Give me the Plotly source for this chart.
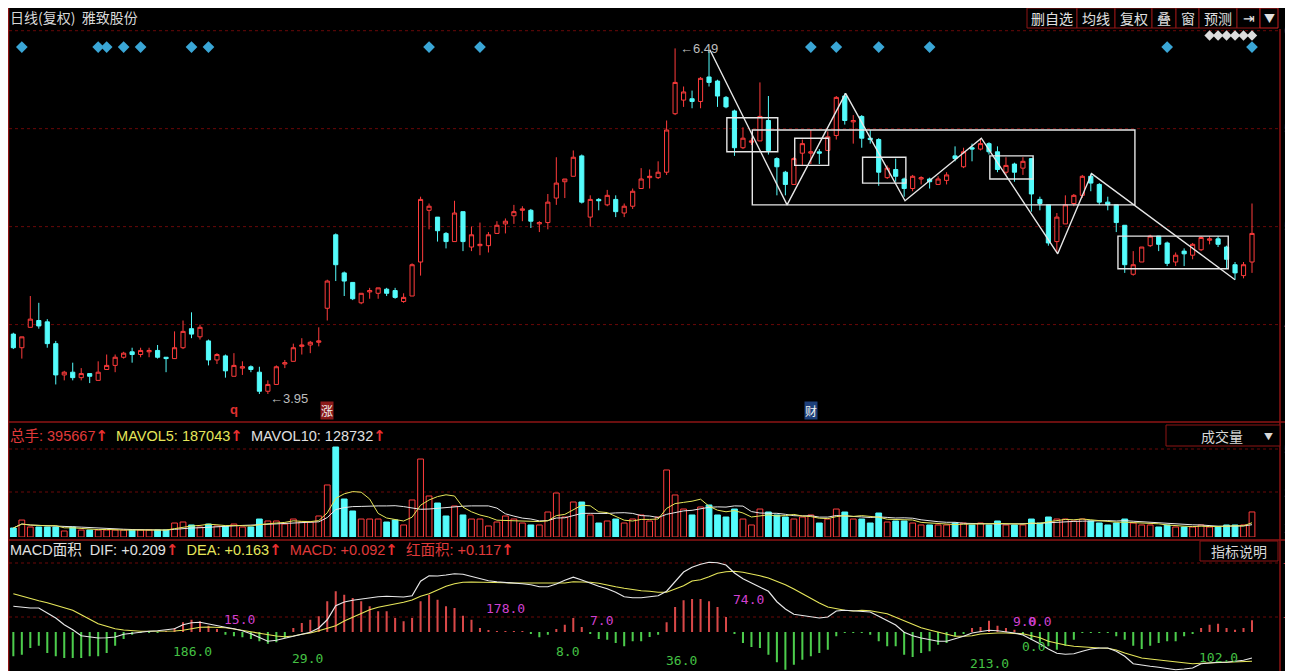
import plotly.graph_objects as go
import pandas as pd

# page is offset by the 8px body margin; figure fills the rest of the 1293x671 window
OFF = 8
W, H = 1293 - OFF, 671 - OFF

# ---------------- data ----------------
opens = [4.39,4.29,4.44,4.49,4.48,4.32,4.09,4.11,4.07,4.10,4.05,4.13,4.16,4.22,4.26,4.24,4.26,4.27,4.22,4.21,
         4.29,4.43,4.37,4.34,4.20,4.23,4.08,4.14,4.15,4.11,3.97,4.02,4.17,4.19,4.30,4.31,4.33,4.58,5.12,4.84,
         4.77,4.62,4.70,4.69,4.72,4.71,4.63,4.67,4.92,5.30,5.25,5.13,5.07,5.29,5.03,5.04,5.04,5.13,5.20,5.26,
         5.30,5.30,5.20,5.21,5.39,5.51,5.55,5.70,5.25,5.38,5.34,5.38,5.28,5.33,5.46,5.54,5.54,5.58,6.01,6.11,
         6.12,6.10,6.28,6.25,6.13,6.03,5.76,5.80,5.81,5.96,5.68,5.58,5.49,5.72,5.72,5.73,5.74,5.85,6.14,5.95,
         5.99,5.83,5.82,5.54,5.60,5.53,5.46,5.53,5.53,5.49,5.52,5.70,5.62,5.76,5.75,5.79,5.73,5.58,5.64,5.61,
         5.68,5.38,5.34,5.07,5.20,5.35,5.41,5.55,5.49,5.36,5.34,5.19,4.83,4.92,5.04,5.11,5.06,4.92,5.00,4.97,
         5.01,5.08,5.09,5.03,4.90,4.82,4.92]
highs = [4.40,4.37,4.67,4.62,4.50,4.34,4.12,4.18,4.14,4.10,4.19,4.24,4.24,4.26,4.29,4.29,4.29,4.31,4.22,4.41,
         4.49,4.55,4.46,4.35,4.25,4.24,4.25,4.19,4.16,4.15,4.05,4.16,4.20,4.32,4.36,4.34,4.44,4.79,5.13,4.85,
         4.77,4.69,4.73,4.73,4.73,4.73,4.69,4.91,5.40,5.35,5.25,5.14,5.37,5.29,5.18,5.21,5.14,5.22,5.24,5.34,
         5.33,5.31,5.22,5.42,5.69,5.53,5.74,5.71,5.41,5.39,5.45,5.41,5.35,5.46,5.61,5.60,5.66,5.96,6.49,6.21,
         6.18,6.28,6.47,6.26,6.14,6.04,5.91,5.83,6.24,6.14,5.69,5.59,5.69,5.82,5.89,5.75,5.88,6.14,6.16,6.00,
         6.00,5.89,5.83,5.63,5.68,5.54,5.56,5.55,5.54,5.55,5.58,5.77,5.76,5.79,5.83,5.80,5.77,5.69,5.65,5.69,
         5.68,5.40,5.34,5.28,5.41,5.42,5.56,5.57,5.50,5.40,5.34,5.19,5.00,5.03,5.12,5.11,5.07,4.99,5.02,5.06,
         5.11,5.11,5.11,5.04,4.92,4.92,5.35]
lows = [4.28,4.21,4.44,4.43,4.29,4.02,4.05,4.05,4.05,4.03,4.05,4.13,4.11,4.21,4.18,4.22,4.22,4.21,4.11,4.21,
        4.28,4.36,4.35,4.16,4.17,4.07,4.08,4.09,4.11,3.95,3.95,4.02,4.14,4.19,4.24,4.25,4.30,4.49,4.78,4.67,
        4.64,4.61,4.65,4.65,4.67,4.65,4.62,4.67,4.82,5.16,5.07,5.02,5.07,5.00,5.00,4.97,4.99,5.13,5.13,5.20,
        5.22,5.17,5.14,5.16,5.34,5.39,5.55,5.35,5.18,5.30,5.33,5.25,5.25,5.31,5.46,5.46,5.53,5.56,6.00,6.06,
        6.05,6.05,6.21,6.06,6.05,5.70,5.75,5.78,5.81,5.71,5.41,5.41,5.49,5.63,5.64,5.64,5.74,5.82,5.93,5.79,
        5.76,5.79,5.48,5.53,5.51,5.40,5.44,5.49,5.46,5.49,5.49,5.66,5.61,5.66,5.74,5.71,5.58,5.56,5.51,5.56,
        5.29,5.30,5.04,4.99,5.20,5.33,5.39,5.44,5.34,5.30,5.14,4.84,4.82,4.92,5.03,5.00,4.89,4.89,4.89,4.94,
        5.00,5.05,5.03,4.87,4.79,4.80,4.84]
closes = [4.29,4.37,4.50,4.45,4.32,4.09,4.11,4.07,4.10,4.08,4.11,4.16,4.22,4.25,4.24,4.27,4.27,4.22,4.21,4.29,
          4.41,4.39,4.44,4.20,4.24,4.12,4.16,4.15,4.13,3.97,4.02,4.15,4.18,4.29,4.31,4.33,4.34,4.78,4.90,4.78,
          4.65,4.69,4.71,4.73,4.69,4.66,4.66,4.90,5.38,5.33,5.15,5.07,5.28,5.07,5.12,5.05,5.12,5.19,5.22,5.29,
          5.31,5.22,5.21,5.36,5.50,5.53,5.69,5.36,5.38,5.37,5.41,5.29,5.33,5.44,5.53,5.55,5.58,5.89,6.24,6.17,
          6.10,6.27,6.24,6.14,6.06,5.76,5.83,5.81,5.99,5.74,5.62,5.49,5.68,5.79,5.73,5.72,5.84,6.13,5.96,5.96,
          5.83,5.82,5.58,5.61,5.55,5.46,5.55,5.54,5.51,5.53,5.56,5.68,5.73,5.75,5.79,5.73,5.60,5.63,5.58,5.66,
          5.42,5.35,5.06,5.25,5.34,5.41,5.55,5.50,5.36,5.34,5.21,4.90,4.90,5.03,5.11,5.05,4.91,4.97,4.98,5.05,
          5.10,5.09,5.05,4.94,4.84,4.90,5.13]
volumes = [142000,268000,158000,158000,158000,158000,95000,158000,110000,110000,110000,110000,110000,110000,110000,
           110000,110000,110000,110000,221000,237000,190000,158000,205000,174000,174000,205000,158000,158000,284000,
           253000,253000,205000,284000,237000,237000,332000,822000,1422000,600000,411000,284000,284000,284000,237000,
           269000,190000,585000,1232000,648000,537000,332000,490000,348000,284000,284000,174000,237000,332000,284000,
           221000,190000,190000,395000,695000,316000,553000,553000,348000,221000,253000,284000,221000,284000,348000,
           253000,316000,1059000,664000,442000,348000,474000,506000,348000,316000,442000,284000,190000,442000,395000,
           348000,316000,284000,316000,348000,221000,284000,442000,395000,284000,284000,221000,379000,237000,253000,
           253000,221000,190000,190000,190000,190000,221000,221000,190000,221000,190000,253000,190000,190000,190000,
           284000,221000,316000,284000,284000,253000,284000,253000,221000,190000,221000,284000,221000,190000,190000,
           158000,190000,158000,158000,158000,190000,158000,158000,190000,190000,190000,395667]
dif = [0.103,0.099,0.096,0.096,0.076,0.056,0.029,0.009,-0.015,-0.021,-0.024,-0.023,-0.020,-0.009,-0.004,0.001,0.003,0.005,0.008,0.013,
       0.029,0.037,0.039,0.032,0.023,0.019,0.013,0.005,-0.007,-0.021,-0.037,-0.033,-0.025,-0.017,-0.009,-0.001,0.016,0.049,0.105,0.120,
       0.127,0.132,0.137,0.141,0.143,0.141,0.140,0.145,0.203,0.225,0.224,0.228,0.233,0.231,0.223,0.213,0.205,0.201,0.199,0.197,
       0.193,0.189,0.181,0.181,0.192,0.207,0.219,0.208,0.195,0.183,0.173,0.159,0.141,0.137,0.137,0.140,0.145,0.163,0.203,0.240,
       0.259,0.271,0.279,0.277,0.268,0.236,0.213,0.196,0.180,0.163,0.121,0.092,0.071,0.067,0.061,0.056,0.060,0.084,0.087,0.085,
       0.085,0.080,0.063,0.047,0.028,-0.001,-0.015,-0.024,-0.031,-0.037,-0.037,-0.028,-0.017,-0.004,0.001,0.007,0.005,0.001,-0.004,-0.012,
       -0.028,-0.047,-0.068,-0.085,-0.089,-0.087,-0.077,-0.068,-0.064,-0.064,-0.077,-0.097,-0.127,-0.133,-0.137,-0.141,-0.145,-0.151,-0.148,-0.144,
       -0.127,-0.123,-0.121,-0.121,-0.117,-0.113,-0.104]
dea = [0.153,0.143,0.132,0.125,0.117,0.108,0.099,0.087,0.069,0.052,0.033,0.023,0.013,0.008,0.005,0.003,0.003,0.003,0.003,0.004,
       0.007,0.012,0.019,0.020,0.020,0.017,0.012,0.008,0.001,-0.005,-0.012,-0.016,-0.019,-0.016,-0.009,-0.004,0.005,0.016,0.025,0.044,
       0.060,0.076,0.089,0.099,0.105,0.112,0.119,0.128,0.143,0.153,0.169,0.183,0.193,0.199,0.200,0.200,0.200,0.199,0.197,0.196,
       0.196,0.196,0.195,0.193,0.195,0.196,0.201,0.201,0.199,0.195,0.187,0.181,0.175,0.169,0.165,0.163,0.159,0.159,0.172,0.185,
       0.204,0.209,0.221,0.235,0.241,0.243,0.239,0.233,0.225,0.216,0.204,0.189,0.172,0.153,0.136,0.116,0.100,0.092,0.087,0.084,
       0.087,0.085,0.079,0.073,0.059,0.045,0.033,0.017,0.008,0.000,-0.011,-0.017,-0.017,-0.015,-0.008,-0.005,-0.004,-0.004,-0.005,-0.007,
       -0.015,-0.023,-0.037,-0.045,-0.052,-0.057,-0.060,-0.064,-0.064,-0.065,-0.072,-0.084,-0.095,-0.104,-0.108,-0.112,-0.116,-0.120,-0.124,-0.127,
       -0.125,-0.124,-0.121,-0.121,-0.121,-0.120,-0.117]
macd_hist = [-0.097,-0.091,-0.064,-0.055,-0.084,-0.097,-0.104,-0.104,-0.104,-0.097,-0.097,-0.084,-0.055,-0.028,-0.011,-0.004,-0.001,-0.001,0.001,0.016,
             0.039,0.049,0.043,0.025,0.012,-0.011,-0.017,-0.021,-0.028,-0.037,-0.047,-0.041,-0.024,0.016,0.036,0.049,0.063,0.123,0.163,0.149,
             0.136,0.123,0.103,0.083,0.083,0.056,0.043,0.056,0.123,0.149,0.129,0.103,0.096,0.065,0.049,0.016,0.007,0.003,0.003,0.003,
             0.001,-0.007,-0.021,-0.011,0.012,0.029,0.056,0.020,-0.007,-0.028,-0.031,-0.044,-0.057,-0.037,-0.037,-0.020,-0.011,0.039,0.100,0.127,
             0.132,0.132,0.123,0.100,0.060,-0.007,-0.044,-0.060,-0.064,-0.091,-0.121,-0.151,-0.131,-0.111,-0.097,-0.084,-0.071,-0.017,-0.004,-0.001,
             -0.004,-0.011,-0.037,-0.057,-0.057,-0.091,-0.100,-0.084,-0.077,-0.051,-0.044,-0.017,-0.007,0.016,0.020,0.045,0.025,0.016,0.009,-0.011,
             -0.031,-0.041,-0.057,-0.071,-0.055,-0.031,-0.004,-0.001,-0.001,-0.001,-0.017,-0.031,-0.055,-0.068,-0.055,-0.044,-0.037,-0.037,-0.017,-0.007,
             0.016,0.029,0.033,0.016,0.009,0.016,0.047]

price_grid = [4.46, 5.18, 5.90, 6.62]
price_tick_text = ["4", "5", "5", "6"]
signal_idx = [1, 10, 11, 13, 15, 21, 23, 49, 55, 94, 97, 102, 108, 136, 146]
forecast_idx = [141, 142, 143, 144, 145, 146]
zig_idx = [82.1, 91.2, 98.1, 105.1, 114.1, 123.1, 127.1, 144.0]
zig_price = [6.48, 5.34, 6.16, 5.37, 5.83, 4.98, 5.57, 4.79]
boxes = [(84.1, 90.1, 5.73, 5.98), (87.1, 132.2, 5.34, 5.89), (92.1, 96.1, 5.63, 5.83),
         (100.1, 105.2, 5.50, 5.69), (115.1, 120.2, 5.53, 5.70), (130.2, 143.2, 4.87, 5.11)]
macd_labels = [("15.0", 26.6, 0.052, "m"), ("186.0", 21.1, -0.076, "g"), ("29.0", 34.7, -0.104, "g"),
               ("178.0", 58.0, 0.096, "m"), ("7.0", 69.3, 0.048, "m"), ("8.0", 65.3, -0.076, "g"),
               ("36.0", 78.7, -0.114, "g"), ("74.0", 86.6, 0.132, "m"), ("9.0", 119.2, 0.044, "m"),
               ("0.0", 121.0, 0.044, "m"), ("0.0", 120.3, -0.056, "g"), ("213.0", 115.1, -0.124, "g"),
               ("102.0", 142.1, -0.100, "g")]
buttons = ["删自选", "均线", "复权", "叠", "窗", "预测", "⇥", "▼"]

# ---------------- styling ----------------
RED = "#ff3c3c"
CYAN = "#54fcfc"
FRAME = "#8e1414"
GRID = "#6a0808"
CJK = "Noto Sans CJK SC, Liberation Sans, sans-serif"
SANS_CJK = "Liberation Sans, Noto Sans CJK SC, sans-serif"


def X(px):  # page pixel -> paper fraction
    return (px - OFF) / W


def Y(px):
    return 1 - (px - OFF) / H


idx = list(range(len(opens)))
up = [c >= o for o, c in zip(opens, closes)]

fig = go.Figure()

fig.add_trace(go.Candlestick(
    x=idx, open=opens, high=highs, low=lows, close=closes,
    increasing=dict(line=dict(color=RED, width=1), fillcolor="#000000"),
    decreasing=dict(line=dict(color=CYAN, width=1), fillcolor=CYAN),
    whiskerwidth=0, xaxis="x", yaxis="y", hoverinfo="skip", showlegend=False))

fig.add_trace(go.Scatter(x=zig_idx, y=zig_price, mode="lines",
                         line=dict(color="#e6e6e6", width=1.4), xaxis="x", yaxis="y",
                         hoverinfo="skip", showlegend=False))

fig.add_trace(go.Scatter(x=signal_idx, y=[6.50] * len(signal_idx), mode="markers",
                         marker=dict(symbol="diamond", size=9, color="#3aa6d6"),
                         xaxis="x", yaxis="y", hoverinfo="skip", showlegend=False))
fig.add_trace(go.Scatter(x=forecast_idx, y=[6.585] * len(forecast_idx), mode="markers",
                         marker=dict(symbol="diamond", size=8, color="#dcdcdc"),
                         xaxis="x", yaxis="y", hoverinfo="skip", showlegend=False))

fig.add_trace(go.Bar(x=idx, y=volumes, width=0.68,
                     marker=dict(color=["#000000" if u else CYAN for u in up],
                                 line=dict(color=[RED if u else CYAN for u in up], width=1)),
                     xaxis="x2", yaxis="y2", hoverinfo="skip", showlegend=False))
vs = pd.Series(volumes)
ma5 = vs.rolling(5, min_periods=1).mean()
ma10 = vs.rolling(10, min_periods=1).mean()
fig.add_trace(go.Scatter(x=idx, y=ma10, mode="lines", line=dict(color="#e8e8e8", width=1),
                         xaxis="x2", yaxis="y2", hoverinfo="skip", showlegend=False))
fig.add_trace(go.Scatter(x=idx, y=ma5, mode="lines", line=dict(color="#e6e65a", width=1),
                         xaxis="x2", yaxis="y2", hoverinfo="skip", showlegend=False))

fig.add_trace(go.Bar(x=idx, y=macd_hist, width=0.24,
                     marker=dict(color=["#d84848" if v >= 0 else "#4ccc4c" for v in macd_hist], line=dict(width=0)),
                     xaxis="x3", yaxis="y3", hoverinfo="skip", showlegend=False))
fig.add_trace(go.Scatter(x=idx, y=dea, mode="lines", line=dict(color="#e6e65a", width=1.2),
                         xaxis="x3", yaxis="y3", hoverinfo="skip", showlegend=False))
fig.add_trace(go.Scatter(x=idx, y=dif, mode="lines", line=dict(color="#e8e8e8", width=1.2),
                         xaxis="x3", yaxis="y3", hoverinfo="skip", showlegend=False))

XR = [-0.63, 149.3]
xdom = [X(8), X(1280)]
ax = dict(visible=False, range=XR, domain=xdom, fixedrange=True)
vol_px = 15800.0
fig.update_layout(
    width=W, height=H, margin=dict(l=0, r=0, t=0, b=0),
    paper_bgcolor="#000000", plot_bgcolor="rgba(0,0,0,0)",
    xaxis=dict(ax, anchor="y", rangeslider=dict(visible=False)),
    yaxis=dict(visible=False, domain=[Y(422), Y(25)], range=[3.744, 6.662], anchor="x"),
    xaxis2=dict(ax, anchor="y2"),
    yaxis2=dict(visible=False, domain=[Y(537), Y(445)], range=[0, 92 * vol_px], anchor="x2"),
    xaxis3=dict(ax, anchor="y3"),
    yaxis3=dict(visible=False, domain=[Y(671), Y(541)], range=[-0.156, 0.364], anchor="x3"),
    barmode="overlay", showlegend=False,
)

shapes = []
annos = []


def text(x, y, t, size=13, color="#d8d8d8", family=CJK, xanchor="center", xref="paper", yref="paper", **kw):
    annos.append(dict(xref=xref, yref=yref, x=x, y=y, text=t, showarrow=False, xanchor=xanchor,
                      yanchor="middle", font=dict(family=family, size=size, color=color), **kw))


# frame
for (x0, y0, x1, y1) in [(8.5, 8, 8.5, 671), (8, 422, 1293, 422), (8, 540, 1293, 540), (1280, 29, 1280, 671)]:
    shapes.append(dict(type="line", xref="paper", yref="paper", x0=X(x0), x1=X(x1), y0=Y(y0), y1=Y(y1),
                       line=dict(color=FRAME, width=1.5)))

# price grid
for p, t in zip(price_grid, price_tick_text):
    shapes.append(dict(type="line", xref="paper", yref="y", x0=X(9), x1=X(1280), y0=p, y1=p,
                       line=dict(color=GRID, width=1, dash="dot"), layer="below"))
    text(X(1282), p, t, size=13, color="#c83232", family="Liberation Sans", xanchor="left", yref="y")
# volume grid
for v, t in [(88 * vol_px, "5"), (45 * vol_px, "2")]:
    shapes.append(dict(type="line", xref="paper", yref="y2", x0=X(9), x1=X(1280), y0=v, y1=v,
                       line=dict(color=GRID, width=1, dash="dot"), layer="below"))
    text(X(1282), v, t, size=13, color="#c83232", family="Liberation Sans", xanchor="left", yref="y2")
text(X(1282), Y(528), "X", size=13, color="#c83232", family="Liberation Sans", xanchor="left")
# macd grid
for v in [0.276, 0.06]:
    shapes.append(dict(type="line", xref="paper", yref="y3", x0=X(9), x1=X(1280), y0=v, y1=v,
                       line=dict(color=GRID, width=1, dash="dot"), layer="below"))
    text(X(1281), v, "+", size=11, color="#c83232", family="Liberation Sans", xanchor="left", yref="y3")

# drawn boxes
for (i0, i1, p0, p1) in boxes:
    shapes.append(dict(type="rect", xref="x", yref="y", x0=i0, x1=i1, y0=p0, y1=p1,
                       line=dict(color="#e6e6e6", width=1.4)))

# title
text(X(8), Y(17), "日线(复权)  雅致股份", size=14, color="#d8d8d8", xanchor="left")

# buttons
bx = [1027, 1077, 1115, 1152, 1176, 1199, 1237, 1260, 1278]
for k, lab in enumerate(buttons):
    shapes.append(dict(type="rect", xref="paper", yref="paper", x0=X(bx[k]), x1=X(bx[k + 1]), y0=Y(28), y1=Y(8),
                       line=dict(color=FRAME if k < 7 else "#c81e1e", width=1), fillcolor="#000000"))
    text(X((bx[k] + bx[k + 1]) / 2), Y(18), lab, size=14 if k < 6 else (14 if k == 6 else 11),
         color="#e0e0e0", family=CJK if k != 6 else "DejaVu Sans")

# price extremes
text(78.3, 6.49, "←6.49", size=13, color="#bdbdbd", family="Liberation Sans", xanchor="left", xref="x", yref="y")
text(30.0, 3.95, "←3.95", size=13, color="#bdbdbd", family="Liberation Sans", xanchor="left", xref="x", yref="y",
     yshift=-5)
# markers under candles
text(26, Y(410), "<b>q</b>", size=13, color="#e03030", family="Liberation Sans", xref="x")
text(37, Y(411), "涨", size=12, color="#f0f0f0", xref="x", bgcolor="#8c1a1a", borderpad=0)
text(94, Y(411), "财", size=12, color="#f0f0f0", xref="x", bgcolor="#1d3f7a", borderpad=0)

# volume header
ARW = "<span style='color:#e83030;font-size:15px;font-family:DejaVu Sans'><b>↑</b></span>"
text(X(8), Y(436), "<span style='color:#e03a3a'>总手: 395667</span>" + ARW +
     "  <span style='color:#e6e65a'>MAVOL5: 187043</span>" + ARW +
     "  <span style='color:#e0e0e0'>MAVOL10: 128732</span>" + ARW, size=14.5, family=SANS_CJK, xanchor="left")
shapes.append(dict(type="rect", xref="paper", yref="paper", x0=X(1166), x1=X(1280), y0=Y(446), y1=Y(425),
                   line=dict(color=FRAME, width=1), fillcolor="#000000"))
text(X(1222), Y(436), "成交量", size=14, color="#d8d8d8")
text(X(1268), Y(436), "▼", size=9, color="#d8d8d8")

# MACD header
text(X(8), Y(550), "<span style='color:#e0e0e0'>MACD面积  DIF: +0.209</span>" + ARW +
     "  <span style='color:#e6e65a'>DEA: +0.163</span>" + ARW +
     "  <span style='color:#e03a3a'>MACD: +0.092</span>" + ARW +
     "  <span style='color:#e03a3a'>红面积: +0.117</span>" + ARW, size=14.5, family=SANS_CJK, xanchor="left")
shapes.append(dict(type="rect", xref="paper", yref="paper", x0=X(1200), x1=X(1278), y0=Y(561), y1=Y(541),
                   line=dict(color=FRAME, width=1), fillcolor="#000000"))
text(X(1239), Y(551), "指标说明", size=14, color="#d8d8d8")

# MACD area labels
for t, xi, yv, c in macd_labels:
    text(xi, yv, t, size=13, color="#d040d0" if c == "m" else "#44c044", family="DejaVu Sans Mono",
         xref="x3", yref="y3")

fig.update_layout(shapes=shapes, annotations=annos)
fig.write_html("out.html")
